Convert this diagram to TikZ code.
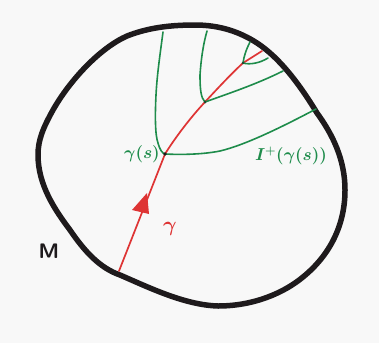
\documentclass[tikz,border=0pt]{standalone}
\usetikzlibrary{calc}
\definecolor{penGreen}{RGB}{30,140,75}
\definecolor{penRed}{RGB}{222,52,52}
\definecolor{penBlack}{RGB}{30,26,28}
\definecolor{paper}{RGB}{248,248,248}
\tikzset{
  boundary/.style={draw=penBlack,line width=5.5pt,line join=round},
  cone/.style={draw=penGreen,line width=1.6pt,line cap=round,line join=round},
  curve/.style={draw=penRed,line width=1.7pt,line cap=round},
  greenlabel/.style={text=penGreen,font=\fontsize{18}{20}\selectfont\boldmath,inner sep=0pt},
  pluslabel/.style={text=penGreen,font=\fontsize{18}{20}\selectfont\boldmath,inner sep=0pt},
  redlabel/.style={text=penRed,font=\fontsize{21}{23}\selectfont\boldmath,inner sep=0pt},
  blacklabel/.style={text=penBlack,font=\fontsize{21}{23}\selectfont\sffamily\bfseries,inner sep=0pt}
}
\begin{document}
\begin{tikzpicture}[x=1pt,y=-1pt]
\fill[paper] (0,0) rectangle (379,343);
\useasboundingbox (0,0) rectangle (379,343);
% boundary of M
\draw[boundary] (195,25) .. controls (165,25) and (145,29) .. (127,36)
  .. controls (100,48) and (70,80) .. (53,110)
  .. controls (43,128) and (38,140) .. (38,155)
  .. controls (38,185) and (55,210) .. (70,230)
  .. controls (85,252) and (100,268) .. (120,275)
  .. controls (150,288) and (185,305) .. (218,306)
  .. controls (255,306) and (285,292) .. (303,277)
  .. controls (330,255) and (345,225) .. (345,190)
  .. controls (345,160) and (333,135) .. (317,113)
  .. controls (300,85) and (280,58) .. (257,43)
  .. controls (240,32) and (220,25) .. (195,25) -- cycle;
% key points
\coordinate (start) at (119,271);
\coordinate (gs) at (165,154);
\coordinate (p2) at (205,102);
\coordinate (p3) at (243,63);
\coordinate (rend) at (262,51);
% red curve
\draw[curve] (start) -- (gs) .. controls (175,138) and (190,118) .. (p2)
  .. controls (218,88) and (232,73) .. (p3) -- (rend);
% arrowhead on gamma
\coordinate (tip) at (147,193);
\coordinate (bl) at (132,210);
\coordinate (br) at (149,214);
\fill[penRed] (tip) -- (bl) -- (br) -- cycle;
% green cones
\draw[cone] (163,32) .. controls (160,55) and (157,75) .. (156,95)
  .. controls (155,115) and (155,135) .. (158,143)
  .. controls (160,150) and (162,153) .. (gs)
  .. controls (185,155) and (205,154) .. (220,151)
  .. controls (245,145) and (280,128) .. (316,109);
\draw[cone] (207,31) .. controls (203,45) and (201,60) .. (200,75)
  .. controls (200,90) and (201,98) .. (p2)
  .. controls (230,93) and (257,84) .. (283,71);
\draw[cone] (250,42) .. controls (246,50) and (244,56) .. (p3)
  .. controls (250,65) and (260,63) .. (268,58);
\fill[penBlack] (gs) circle (1.8pt);
\fill[penBlack!60!penGreen] (p2) circle (1.5pt);
\fill[penBlack!60!penGreen] (p3) circle (1.4pt);
% labels
\node[greenlabel] (lgs) at (142,154) {$\gamma(s)$};
\node[pluslabel] (lI) at (291,156) {$I^{+}\bigl(\gamma(s)\bigr)$};
\node[redlabel] (lgamma) at (170,229) {$\gamma$};
\node[blacklabel] (lM) at (49,251) {M};
\end{tikzpicture}
\end{document}
